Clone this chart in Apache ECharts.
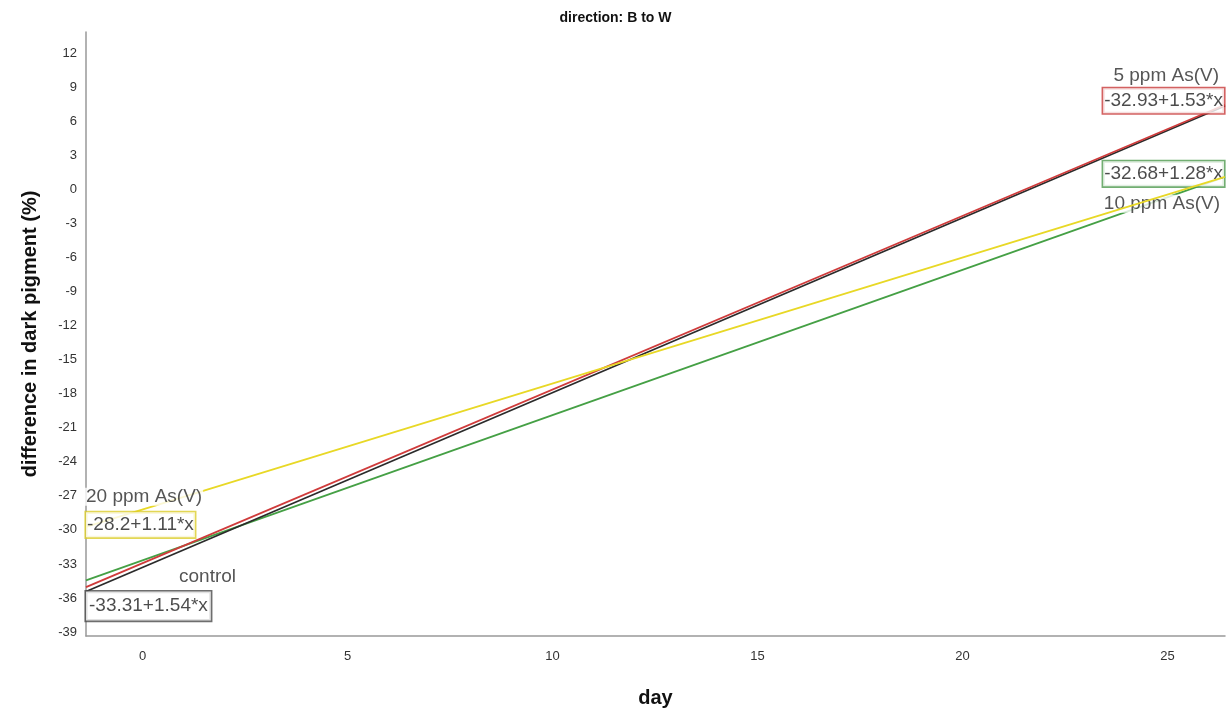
<!DOCTYPE html>
<html>
<head>
<meta charset="utf-8">
<title>direction: B to W</title>
<script src="https://cdn.jsdelivr.net/npm/echarts@6/dist/echarts.min.js"></script>
<style>
  html, body { margin: 0; padding: 0; background: #fff; }
  #chart { width: 1231px; height: 713px; }
</style>
</head>
<body>
<div id="chart"></div>
<script>
// Linear fits of dark-pigment difference against day, one per treatment
const groups = ['control', '5 ppm As(V)', '10 ppm As(V)', '20 ppm As(V)'];
const intercepts = [-33.31, -32.93, -32.68, -28.2];
const slopes = [1.54, 1.53, 1.28, 1.11];
const lineColors = ['#2b2b2b', '#cf3b3b', '#45a045', '#e8d826'];
const boxColors = ['#4a4a4a', '#c83a3a', '#4f9a4f', '#dccd2a'];

// Day range covered by the fitted lines (full width of the x axis)
const dayRange = [-1.378, 26.4];
const xTicks = [0, 5, 10, 15, 20, 25];
const yTicks = [-39, -36, -33, -30, -27, -24, -21, -18, -15, -12, -9, -6, -3, 0, 3, 6, 9, 12];

const fit = (i, d) => intercepts[i] + slopes[i] * d;
const fitText = i => intercepts[i] + '+' + slopes[i] + '*x';

// Where each group's labels sit: which end of its line, and pixel offsets
// of the equation box and of the group name from that end point.
const labelPlacement = [
  { end: 0, boxDy: 14.5, boxPad: [5, 3, 4, 3], nameDx: 92,  nameDy: -15, nameAlign: 'left' },
  { end: 1, boxDy: -4,   boxPad: [3, 1, 2, 1], nameDx: -5,  nameDy: -29, nameAlign: 'right' },
  { end: 1, boxDy: -3,   boxPad: [3, 1, 2, 1], nameDx: -4,  nameDy: 27,  nameAlign: 'right' },
  { end: 0, boxDy: -2,   boxPad: [3, 1, 2, 1], nameDx: -1,  nameDy: -30, nameAlign: 'left' }
];
// Drawing order: green below, then black, red, yellow on top
const lineZ = [4, 5, 2, 7];
const labelZ = [6, 6, 3, 8];

const FONT = 'Liberation Sans, Arial, sans-serif';

const series = [];
groups.forEach((g, i) => {
  series.push({
    name: g,
    type: 'line',
    z: lineZ[i],
    symbol: 'none',
    silent: true,
    lineStyle: { color: lineColors[i], width: 1.8 },
    data: dayRange.map(d => [d, fit(i, d)])
  });
  const p = labelPlacement[i];
  const d = dayRange[p.end];
  const align = p.end === 1 ? 'right' : 'left';
  series.push({
    name: g + ' labels',
    type: 'scatter',
    z: labelZ[i],
    symbolSize: 0,
    silent: true,
    data: [
      {
        value: [d, fit(i, d)],
        label: {
          show: true,
          position: 'inside',
          align: align,
          verticalAlign: 'middle',
          offset: [p.end === 1 ? -1 : 0, p.boxDy],
          formatter: fitText(i),
          fontFamily: FONT,
          fontSize: 19,
          lineHeight: 20,
          color: '#1e1e1e',
          backgroundColor: '#fff',
          borderColor: boxColors[i],
          borderWidth: 1.6,
          padding: p.boxPad
        }
      },
      {
        value: [d, fit(i, d)],
        label: {
          show: true,
          position: 'inside',
          align: p.nameAlign,
          verticalAlign: 'middle',
          offset: [p.nameDx, p.nameDy],
          formatter: g,
          fontFamily: FONT,
          fontSize: 19,
          lineHeight: 18,
          color: '#2a2a2a',
          backgroundColor: '#fff',
          padding: [0, 1, 0, 1]
        }
      }
    ]
  });
});

const chart = echarts.init(document.getElementById('chart'), null, { renderer: 'canvas' });
chart.setOption({
  animation: false,
  backgroundColor: '#fff',
  title: {
    text: 'direction: B to W',
    left: 'center',
    top: 6,
    textStyle: { fontFamily: FONT, fontSize: 14, fontWeight: 'bold', color: '#111' }
  },
  grid: { left: 86, right: 6, top: 32, bottom: 76, containLabel: false },
  xAxis: {
    type: 'value',
    min: dayRange[0],
    max: dayRange[1],
    name: 'day',
    nameLocation: 'middle',
    nameGap: 52,
    nameTextStyle: { fontFamily: FONT, fontSize: 20, fontWeight: 'bold', color: '#111' },
    axisLine: { show: true, onZero: false, lineStyle: { color: '#999', width: 1.5 } },
    axisTick: { show: false },
    splitLine: { show: false },
    axisLabel: {
      customValues: xTicks,
      margin: 14,
      fontFamily: FONT,
      fontSize: 13,
      color: '#333'
    }
  },
  yAxis: {
    type: 'value',
    min: -39.35,
    max: 13.87,
    name: 'difference in dark pigment (%)',
    nameLocation: 'middle',
    nameGap: 46,
    nameTextStyle: { fontFamily: FONT, fontSize: 20, fontWeight: 'bold', color: '#111' },
    axisLine: { show: true, onZero: false, lineStyle: { color: '#999', width: 1.5 } },
    axisTick: { show: false },
    splitLine: { show: false },
    axisLabel: {
      customValues: yTicks,
      margin: 9,
      fontFamily: FONT,
      fontSize: 13,
      color: '#333'
    }
  },
  series: series
});
</script>
</body>
</html>
